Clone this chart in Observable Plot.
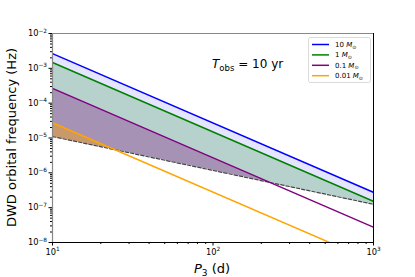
<!DOCTYPE html>
<html><head><meta charset="utf-8">
<script src="https://cdn.jsdelivr.net/npm/d3@7"></script>
<script src="https://cdn.jsdelivr.net/npm/@observablehq/plot@0.6"></script>
<style>
body{margin:0;background:#fff;}
#wrap{position:relative;width:415px;height:277px;font-family:"DejaVu Sans",sans-serif;}
</style></head><body><div id="wrap"></div>
<script>
// Data (P3 in days, frequency in Hz)
const periods = [10, 1000];
const f10Msun = [2.65e-3, 2.75e-7];
const f1Msun = [1.47e-3, 1.52e-7];
const f01Msun = [2.65e-4, 2.75e-8];
const f001Msun = [2.75e-5, 2.85e-9];
const fLimit = [1.1e-5, 1.25e-7];          // dashed line
// where the 0.01 and 0.1 Msun lines meet the dashed line
const crossP = [25, 215];
const crossF = [4.5e-6, 5.6e-7];
const seriesLabels = ["10", "1", "0.1", "0.01"];
const seriesColors = ["blue", "green", "purple", "orange"];
const fillAlphas = [0.1, 0.2, 0.3, 0.4];
const xMajor = [10, 100, 1000];
const yMajor = [1e-8, 1e-7, 1e-6, 1e-5, 1e-4, 1e-3, 1e-2];

const minorOf = (lo, hi) => { const out = []; for (let e = lo; e < hi; e++) for (let m = 2; m <= 9; m++) out.push(m * Math.pow(10, e)); return out; };
const xMinor = minorOf(1, 3);
const yMinor = minorOf(-8, -2);
const fmt = d => "10^" + String(Math.round(Math.log10(d))).replace("-", "−");

const allSeries = [f10Msun, f1Msun, f01Msun, f001Msun];
const lineData = allSeries.map(s => periods.map((p, i) => ({P: p, f: s[i]})));
const limitData = periods.map((p, i) => ({P: p, f: fLimit[i]}));
const fullArea = s => periods.map((p, i) => ({P: p, lo: fLimit[i], hi: s[i]}));
const partArea = (s, k) => [{P: periods[0], lo: fLimit[0], hi: s[0]}, {P: crossP[k], lo: crossF[k], hi: crossF[k]}];
const areaData = [fullArea(f10Msun), fullArea(f1Msun), partArea(f01Msun, 1), partArea(f001Msun, 0)];

const chart = Plot.plot({
  width: 415, height: 277,
  marginLeft: 52, marginRight: 42, marginTop: 33, marginBottom: 35,
  style: {fontFamily: "DejaVu Sans", background: "white", overflow: "visible"},
  x: {type: "log", domain: [10, 1000]},
  y: {type: "log", domain: [1e-8, 1e-2]},
  marks: [
    ...areaData.map((d, i) => Plot.areaY(d, {x: "P", y1: "lo", y2: "hi", fill: seriesColors[i], fillOpacity: fillAlphas[i], clip: true})),
    Plot.line(limitData, {x: "P", y: "f", stroke: "#444", strokeWidth: 1.2, strokeDasharray: "3.5,1.8", clip: true}),
    ...lineData.map((d, i) => Plot.line(d, {x: "P", y: "f", stroke: seriesColors[i], strokeWidth: 1.5, clip: true})),
    Plot.axisX({ticks: xMinor, tickSize: 2, tickFormat: () => "", label: null}),
    Plot.axisX({ticks: xMajor, tickSize: 3.5, tickPadding: 3, tickFormat: fmt, fontSize: 8.3, label: null}),
    Plot.axisY({ticks: yMinor, tickSize: 2, tickFormat: () => "", label: null}),
    Plot.axisY({ticks: yMajor, tickSize: 3.5, tickPadding: 2, tickFormat: fmt, fontSize: 8.3, label: null}),
    Plot.ruleY([1e-2], {stroke: "#888", strokeWidth: 1.2}),
    Plot.ruleX([10], {stroke: "#888", strokeWidth: 1.2}),
    Plot.ruleY([1e-8], {stroke: "#000"}),
    Plot.ruleX([1000], {stroke: "#000"})
  ]
});
document.getElementById("wrap").appendChild(chart);

const svg = d3.select(chart);
// superscript exponents in tick labels
svg.selectAll("text").each(function () {
  const s = this.textContent;
  if (!s.startsWith("10^")) return;
  const t = d3.select(this);
  t.text(null);
  t.append("tspan").text("10");
  t.append("tspan").attr("font-size", 5.8).attr("dy", -3.6).text(s.slice(3));
});
// axis labels
const xl = svg.append("text").attr("x", 212).attr("y", 272.5).attr("text-anchor", "middle").attr("font-size", 13).attr("fill", "black");
xl.append("tspan").attr("font-style", "italic").text("P");
xl.append("tspan").attr("font-size", 9).attr("dy", 3).text("3");
xl.append("tspan").attr("dy", -3).text(" (d)");
svg.append("text").attr("transform", "translate(15.5,137.5) rotate(-90)").attr("text-anchor", "middle")
  .attr("font-size", 13).attr("fill", "black").text("DWD orbital frequency (Hz)");
// annotation
const tx = svg.append("text").attr("x", 212).attr("y", 67.5).attr("text-anchor", "start").attr("font-size", 12).attr("fill", "black");
tx.append("tspan").attr("font-style", "italic").text("T");
tx.append("tspan").attr("font-size", 8.5).attr("dy", 3).text("obs");
tx.append("tspan").attr("dy", -3).text(" = 10 yr");
// legend
const lg = svg.append("g").attr("text-anchor", "start");
lg.append("rect").attr("x", 308.5).attr("y", 37.5).attr("width", 62).attr("height", 45).attr("rx", 2)
  .attr("fill", "white").attr("fill-opacity", 0.85).attr("stroke", "#d0d0d0").attr("stroke-width", 0.8);
seriesLabels.forEach((lab, i) => {
  const y = 44.5 + i * 10.4;
  lg.append("line").attr("x1", 312).attr("x2", 329).attr("y1", y).attr("y2", y).attr("stroke", seriesColors[i]).attr("stroke-width", 1.5);
  const t = lg.append("text").attr("x", 335).attr("y", y + 2.5).attr("text-anchor", "start").attr("font-size", 7).attr("fill", "black");
  t.append("tspan").text(lab + " ");
  t.append("tspan").attr("font-style", "italic").text("M");
  t.append("tspan").attr("font-size", 5).attr("dy", 1.5).text("⊙");
});
</script>
</body></html>
